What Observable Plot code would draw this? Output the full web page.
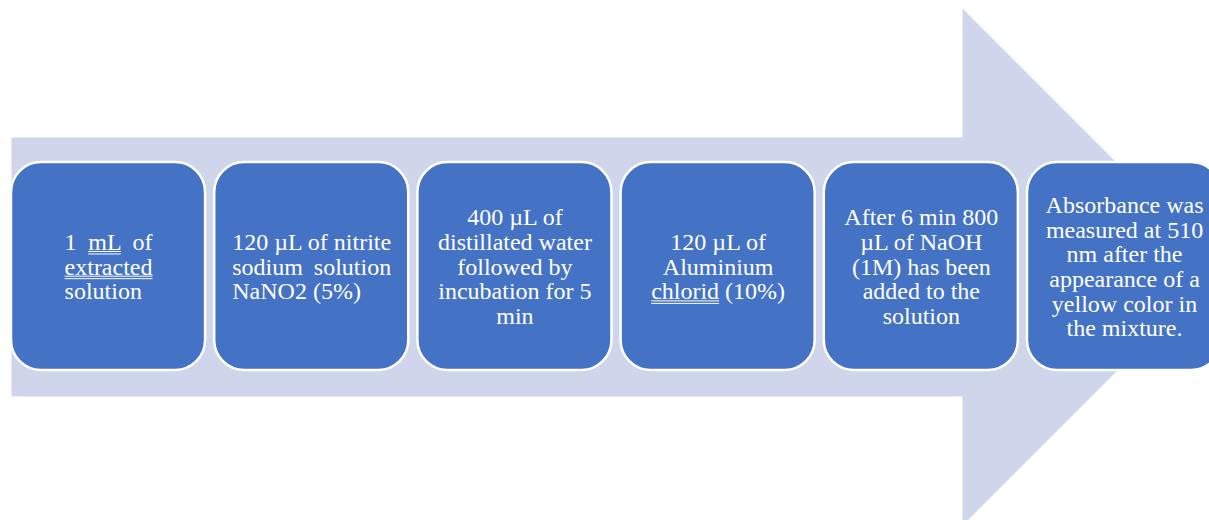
<!DOCTYPE html>
<html>
<head>
<meta charset="utf-8">
<script src="https://cdn.jsdelivr.net/npm/d3@7"></script>
<script src="https://cdn.jsdelivr.net/npm/@observablehq/plot@0.6"></script>
<style>
  html, body { margin: 0; padding: 0; background: #ffffff; }
  #chart svg { display: block; }
</style>
</head>
<body>
<div id="chart"></div>
<script>
// ---- Content ----
const steps = [
  "1 mL of\nextracted\nsolution",
  "120 µL of nitrite\nsodium solution\nNaNO2 (5%)",
  "400 µL of\ndistillated water\nfollowed by\nincubation for 5\nmin",
  "120 µL of\nAluminium\nchlorid (10%)",
  "After 6 min 800\nµL of NaOH\n(1M) has been\nadded to the\nsolution",
  "Absorbance was\nmeasured at 510\nnm after the\nappearance of a\nyellow color in\nthe mixture."
];
const justified = [true, true, false, false, false, false];
const underlinedWords = ["mL", "extracted", "chlorid"];

// ---- Layout (step units along x, pixel units along y) ----
const W = 1209, H = 520;
const pitch = 203.2, leftPad = 11;
const boxW = 0.955;
const boxTop = 162, boxBottom = 370;
const bodyTop = 137, bodyBottom = 396, bodyEnd = 4.68;
const headTop = 8, headBottom = 525, tipX = 5.952;
const centerY = 266.5, lineH = 24.7;

const boxes = steps.map((s, i) => ({step: i, x1: i, x2: i + boxW}));
const arrow = [
  {x: 0, y: bodyTop}, {x: bodyEnd, y: bodyTop}, {x: bodyEnd, y: headTop},
  {x: tipX, y: centerY}, {x: bodyEnd, y: headBottom}, {x: bodyEnd, y: bodyBottom},
  {x: 0, y: bodyBottom}
];
const lines = steps.flatMap((s, i) => {
  const ls = s.split("\n");
  return ls.map((t, j) => ({step: i, text: t, x: i + boxW / 2,
    y: centerY + (j - (ls.length - 1) / 2) * lineH, last: j === ls.length - 1}));
});

const font = "'Liberation Serif', 'Times New Roman', serif";
const chart = Plot.plot({
  width: W, height: H,
  margin: 0,
  x: {domain: [-leftPad / pitch, (W - leftPad) / pitch], range: [0, W], axis: null},
  y: {domain: [0, H], range: [0, H], axis: null},
  style: {background: "transparent", fontFamily: font},
  marks: [
    Plot.line(arrow, {x: "x", y: "y", fill: "#CFD5EA", stroke: "none", curve: "linear-closed"}),
    Plot.rect(boxes, {x1: "x1", x2: "x2", y1: boxTop, y2: boxBottom, fill: "#4472C4",
      stroke: "#ffffff", strokeWidth: 2.5, rx: 30}),
    Plot.text(lines, {x: "x", y: "y", text: "text", fill: "#ffffff", fontSize: 24,
      fontFamily: font, textAnchor: "middle"})
  ]
});
document.getElementById("chart").appendChild(chart);

// ---- Post-processing: justification (word spacing) and double underlines ----
const SVGNS = "http://www.w3.org/2000/svg";
const textEls = Array.from(chart.querySelectorAll("g[aria-label='text'] text"));
const marked = [];
textEls.forEach((el, k) => {
  const d = lines[k];
  const word = underlinedWords.find(w => new RegExp("\\b" + w + "\\b").test(d.text));
  if (word) {
    const idx = d.text.indexOf(word);
    marked.push({el, start: idx, end: idx + word.length - 1});
  }
});
steps.forEach((s, i) => {
  if (!justified[i]) return;
  const els = textEls.filter((el, k) => lines[k].step === i);
  const widths = els.map(el => el.getComputedTextLength());
  const maxW = Math.max(...widths);
  els.forEach((el, j) => {
    const d = lines[textEls.indexOf(el)];
    el.setAttribute("text-anchor", "start");
    el.setAttribute("x", -maxW / 2);
    const spaces = (d.text.match(/ /g) || []).length;
    if (!d.last && spaces > 0) {
      el.style.wordSpacing = ((maxW - widths[j]) / spaces) + "px";
    }
  });
});
marked.forEach(({el, start, end}) => {
  const p0 = el.getStartPositionOfChar(start);
  const p1 = el.getEndPositionOfChar(end);
  [1.5, 4].forEach(off => {
    const ln = document.createElementNS(SVGNS, "line");
    ln.setAttribute("x1", p0.x);
    ln.setAttribute("x2", p1.x);
    ln.setAttribute("y1", p0.y + off);
    ln.setAttribute("y2", p0.y + off);
    ln.setAttribute("stroke", "#ffffff");
    ln.setAttribute("stroke-width", 1);
    const tr = el.getAttribute("transform");
    if (tr) ln.setAttribute("transform", tr);
    el.parentNode.appendChild(ln);
  });
});
</script>
</body>
</html>
